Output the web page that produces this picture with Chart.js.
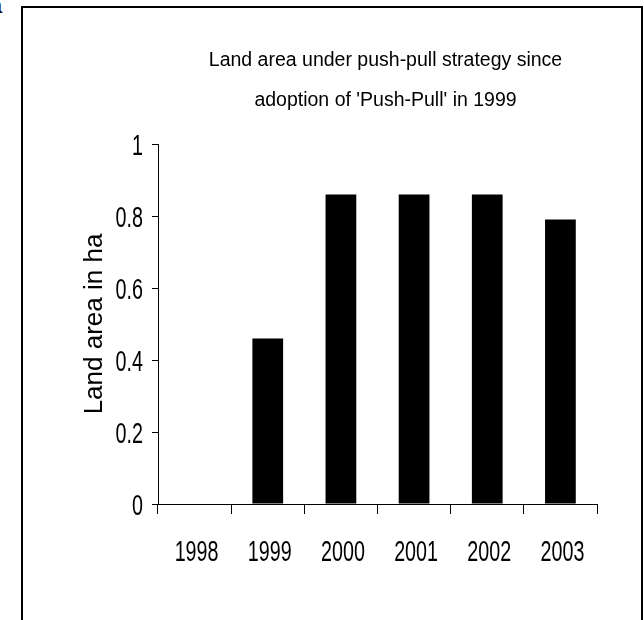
<!DOCTYPE html>
<html lang="en">
  <head>
    <meta charset="UTF-8" />
    <title>Land area under push-pull</title>
    <script src="https://cdn.jsdelivr.net/npm/chart.js"></script>
    <style>
      body {
        margin: 0;
        background: #fff;
        font-family: "Liberation Sans", Arial, sans-serif;
      }
      .wrap {
        position: relative;
        width: 644px;
        height: 620px;
        overflow: hidden;
      }
      .frame {
        position: absolute;
        left: 21px;
        top: 6px;
        width: 622px;
        height: 700px;
        border: 2px solid #000;
        box-sizing: border-box;
      }
      .panel {
        position: absolute;
        left: -10px;
        top: -7px;
        font-size: 22px;
        color: #000;
        -webkit-font-smoothing: antialiased;
      }
      canvas {
        position: absolute;
        left: 0;
        top: 0;
      }
    </style>
  </head>
  <body>
    <div class="wrap">
      <div class="frame"></div>
      <div class="panel">a</div>
      <canvas id="areaChart" width="644" height="620"></canvas>
    </div>

    <script>
      const years = ["1998", "1999", "2000", "2001", "2002", "2003"];
      const landArea = [0, 0.46, 0.86, 0.86, 0.86, 0.79];
      const titleLines = [
        "Land area under push-pull strategy since",
        "adoption of 'Push-Pull' in 1999",
      ];
      const yTitle = "Land area in ha";

      const sans = '"Liberation Sans", Arial, sans-serif';
      const squeeze = 0.68; // the original tick digits are tall and narrow

      // two-line heading, centred a little right of the plot centre
      const headingPlugin = {
        id: "heading",
        afterDraw(chart) {
          const ctx = chart.ctx;
          const area = chart.chartArea;
          const cx = (area.left + area.right) / 2 + 8;
          ctx.save();
          ctx.fillStyle = "#000";
          ctx.font = "19.5px " + sans;
          ctx.textAlign = "center";
          ctx.textBaseline = "middle";
          titleLines.forEach((line, i) => {
            ctx.fillText(line, cx, 61 + i * 40);
          });
          ctx.restore();
        },
      };

      // condensed tick labels, placed from the chart's own scales
      const narrowTicks = {
        id: "narrowTicks",
        afterDraw(chart) {
          const ctx = chart.ctx;
          const xs = chart.scales.x;
          const ys = chart.scales.y;
          ctx.save();
          ctx.fillStyle = "#000";
          ctx.font = "29px " + sans;
          ctx.textBaseline = "alphabetic";

          ctx.textAlign = "center";
          xs.ticks.forEach((t, i) => {
            ctx.save();
            ctx.translate(xs.getPixelForTick(i) + 2, xs.bottom - 59);
            ctx.scale(squeeze, 1);
            ctx.fillText(years[i], 0, 0);
            ctx.restore();
          });

          ctx.textAlign = "right";
          ys.ticks.forEach((t, i) => {
            const label = String(Math.round(t.value * 10) / 10);
            ctx.save();
            ctx.translate(ys.right - 15, ys.getPixelForTick(i) + 10.5);
            ctx.scale(squeeze, 1);
            ctx.fillText(label, 0, 0);
            ctx.restore();
          });
          ctx.restore();
        },
      };

      new Chart(document.getElementById("areaChart"), {
        type: "bar",
        data: {
          labels: years,
          datasets: [
            {
              data: landArea,
              backgroundColor: "#000",
              borderWidth: 0,
              categoryPercentage: 1,
              barPercentage: 0.42,
            },
          ],
        },
        options: {
          responsive: false,
          animation: false,
          layout: { padding: { left: 0, right: 47, top: 144, bottom: 0 } },
          plugins: {
            legend: { display: false },
            tooltip: { enabled: false },
          },
          scales: {
            x: {
              offset: true,
              grid: {
                offset: true,
                drawOnChartArea: false,
                drawTicks: true,
                tickLength: 10,
                color: "#000",
              },
              border: { display: true, color: "#000", width: 1 },
              ticks: { display: false },
              afterFit(scale) {
                scale.height = 116;
              },
            },
            y: {
              min: 0,
              max: 1,
              ticks: { stepSize: 0.2, display: false },
              grid: {
                drawOnChartArea: false,
                drawTicks: true,
                tickLength: 6,
                color: "#000",
              },
              border: { display: true, color: "#000", width: 1 },
              title: {
                display: true,
                text: yTitle,
                color: "#000",
                font: { family: sans, size: 26 },
                padding: { top: 79, bottom: 0 },
              },
              afterFit(scale) {
                scale.width = 158;
              },
            },
          },
        },
        plugins: [headingPlugin, narrowTicks],
      });
    </script>
  </body>
</html>
